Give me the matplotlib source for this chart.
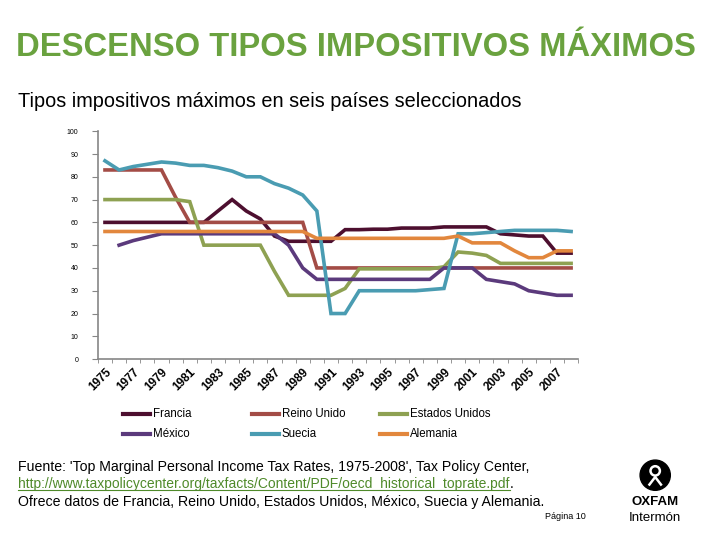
import numpy as np
import matplotlib.pyplot as plt
from matplotlib.lines import Line2D
from matplotlib.patches import Circle

plt.rcParams['font.family'] = ['Liberation Sans', 'DejaVu Sans']

years = list(range(1975, 2009))

francia = [60, 60, 60, 60, 60, 60, 60, 60, 65, 70, 65, 61.5, 54, 51.7, 51.7, 51.7, 51.7,
           56.8, 56.8, 57, 57, 57.5, 57.5, 57.5, 58, 58, 58, 58, 55, 54.5, 54, 54, 46.5, 46.5]
reino_unido = [83, 83, 83, 83, 83, 71, 60, 60, 60, 60, 60, 60, 60, 60, 60, 40, 40,
               40, 40, 40, 40, 40, 40, 40, 40, 40, 40, 40, 40, 40, 40, 40, 40, 40]
estados_unidos = [70, 70, 70, 70, 70, 70, 69.1, 50, 50, 50, 50, 50, 38.5, 28, 28, 28, 28,
                  31, 39.6, 39.6, 39.6, 39.6, 39.6, 39.6, 40.5, 47, 46.5, 45.5, 42, 42, 42, 42, 42, 42]
mexico = [np.nan, 50, 52, 53.5, 55, 55, 55, 55, 55, 55, 55, 55, 55, 50, 40, 35, 35,
          35, 35, 35, 35, 35, 35, 35, 40, 40, 40, 35, 34, 33, 30, 29, 28, 28]
suecia = [87, 83, 84.5, 85.5, 86.5, 86, 85, 85, 84, 82.5, 80, 80, 77, 75, 72, 65, 20,
          20, 30, 30, 30, 30, 30, 30.5, 31, 55, 55, 55.5, 56, 56.5, 56.5, 56.5, 56.5, 56]
alemania = [56, 56, 56, 56, 56, 56, 56, 56, 56, 56, 56, 56, 56, 56, 56, 53, 53,
            53, 53, 53, 53, 53, 53, 53, 53, 54, 51, 51, 51, 47.5, 44.5, 44.5, 47.5, 47.5]

series = [
    ('Francia', francia, '#4d0f2f'),
    ('Reino Unido', reino_unido, '#a34c46'),
    ('Estados Unidos', estados_unidos, '#8ea152'),
    ('México', mexico, '#5b3a7c'),
    ('Suecia', suecia, '#4a9cb2'),
    ('Alemania', alemania, '#e2873d'),
]

fig = plt.figure(figsize=(7.2, 5.4), dpi=100)
ax = fig.add_axes([0.136, 0.335, 0.667, 0.422])

x = np.arange(len(years))
for name, vals, col in series:
    ax.plot(x, vals, color=col, lw=2.6, solid_joinstyle='miter')

ax.set_xlim(-0.5, len(years) - 0.5)
ax.set_ylim(0, 100)
ax.set_yticks(range(0, 101, 10))
ax.tick_params(axis='y', labelsize=5, length=4, color='#868686', pad=10)
ax.set_xticks(x[::2])
ax.set_xticklabels([str(y) for y in years[::2]], rotation=45, ha='right',
                   rotation_mode='anchor', fontsize=8.5, fontweight='bold')
ax.tick_params(axis='x', length=0, pad=5)
ax.set_xticks(np.arange(-0.5, len(years)), minor=True)
ax.tick_params(axis='x', which='minor', length=3, color='#868686')
for s in ['top', 'right']:
    ax.spines[s].set_visible(False)
for s in ['left', 'bottom']:
    ax.spines[s].set_color('#868686')
    ax.spines[s].set_linewidth(1.2)

# legend, 3 columns x 2 rows below the chart
col_x = [0.171, 0.350, 0.528]
row_y = [0.234, 0.197]
for i, (name, vals, col) in enumerate(series):
    cx = col_x[i % 3]
    ry = row_y[i // 3]
    fig.add_artist(Line2D([cx, cx + 0.037], [ry, ry], color=col, lw=3))
    fig.text(cx + 0.041, ry, name, fontsize=8.3, va='center')

fig.text(0.022, 0.912, 'DESCENSO TIPOS IMPOSITIVOS MÁXIMOS', color='#6aa23f',
         fontsize=23.6, fontweight='bold', va='center')
fig.text(0.025, 0.812, 'Tipos impositivos máximos en seis países seleccionados',
         fontsize=14.3, va='center')

fig.text(0.025, 0.135, "Fuente: 'Top Marginal Personal Income Tax Rates, 1975-2008', Tax Policy Center,",
         fontsize=10.2, va='center')
url = fig.text(0.025, 0.103, 'http://www.taxpolicycenter.org/taxfacts/Content/PDF/oecd_historical_toprate.pdf',
               fontsize=10, va='center', color='#4f8a2a')
fig.canvas.draw()
bb = url.get_window_extent().transformed(fig.transFigure.inverted())
fig.add_artist(Line2D([bb.x0, bb.x1], [bb.y0 + 0.002, bb.y0 + 0.002], color='#4f8a2a', lw=0.8))
fig.text(bb.x1 + 0.001, 0.103, '.', fontsize=10, va='center')
fig.text(0.025, 0.071, 'Ofrece datos de Francia, Reino Unido, Estados Unidos, México, Suecia y Alemania.',
         fontsize=10.2, va='center')
fig.text(0.757, 0.044, 'Página 10', fontsize=6.5, va='center')

# logo
logo = fig.add_axes([0.885, 0.085, 0.05, 0.07])
logo.set_xlim(0, 1)
logo.set_ylim(0, 1)
logo.set_aspect('equal')
logo.axis('off')
logo.add_patch(Circle((0.5, 0.5), 0.42, color='black'))
logo.add_patch(Circle((0.5, 0.62), 0.13, fill=False, ec='white', lw=1.8))
logo.plot([0.34, 0.5, 0.66], [0.24, 0.45, 0.24], color='white', lw=1.8)
fig.text(0.91, 0.070, 'OXFAM', fontsize=9.5, fontweight='bold', ha='center', va='center')
fig.text(0.91, 0.040, 'Intermón', fontsize=9.5, ha='center', va='center')

fig.savefig('out.png', dpi=100)
